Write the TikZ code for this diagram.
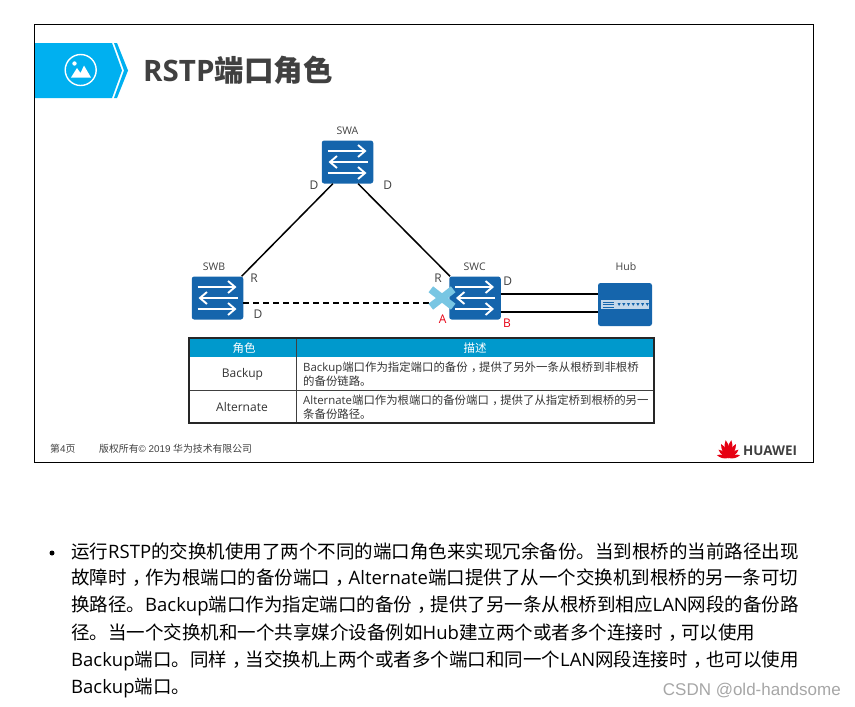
\documentclass[tikz,border=0pt]{standalone}
\usepackage{fontspec}
\setmainfont{Open Sans}
\newfontfamily\cjk{Noto Sans CJK SC}
\newfontfamily\arialf{Liberation Sans}
\usetikzlibrary{arrows.meta, calc}
\definecolor{hwblue}{HTML}{1565AC}
\definecolor{headblue}{HTML}{0099CC}
\definecolor{bannerblue}{HTML}{00B0F0}
\definecolor{crossblue}{HTML}{78C6E3}
\definecolor{textgray}{HTML}{404040}
\definecolor{hwred}{HTML}{E60012}
% comma sits in the middle of its square in the reference
\newcommand\zhc{\kern.3em ，\kern-.3em}
\tikzset{
  >=Stealth,
  device/.style   = {fill=hwblue, rounded corners=2.5pt, inner sep=0pt,
                     minimum width=51.5pt, minimum height=43pt},
  swlabel/.style  = {font=\fontsize{10.5}{12}\selectfont, textgray, inner sep=0pt},
  port/.style     = {font=\fontsize{12}{13}\selectfont, textgray, inner sep=0pt},
  redport/.style  = {font=\fontsize{12}{13}\selectfont, hwred, inner sep=0pt},
  link/.style     = {line width=1.5pt, black},
  flow/.style     = {white, line width=1.9pt},
  cell/.style     = {font=\fontsize{11.4}{13.4}\selectfont, black!80, inner sep=0pt, align=left},
  rolecell/.style = {font=\fontsize{12}{13.4}\selectfont, black!80, inner sep=0pt},
  headcell/.style = {font=\fontsize{11.5}{13}\selectfont\cjk, white, inner sep=0pt},
  bodyline/.style = {font=\fontsize{18.5}{20}\selectfont, black, inner sep=0pt, anchor=west},
}

\begin{document}
\begin{tikzpicture}[x=1pt, y=-1pt]
  \useasboundingbox (0,0) rectangle (855,707);

  % ---------- slide frame and banner --------------------------------
  \draw[black, line width=1pt] (34.5,24.5) rectangle (813,462);
  \fill[bannerblue] (35,43) -- (112,43) -- (122,70.5) -- (112,98) -- (35,98) -- cycle;
  \fill[bannerblue] (114,43) -- (117,43) -- (128,70.5) -- (117,98) -- (114,98) -- (124,70.5) -- cycle;
  \draw[white, line width=1.4pt] (80.7,70) circle (15.5);
  \fill[white] (71,77.5) -- (77,68) -- (80.5,73) -- (84,65.5) -- (91,77.5) -- cycle;
  \fill[white] (74.5,63.5) circle (2.2);
  \node[inner sep=0pt, anchor=west, font=\fontsize{29.5}{31}\selectfont\bfseries, textgray] (title) at (143,70)
    {RSTP{\cjk 端口角色}};

  % ---------- devices ------------------------------------------------
  \node[device] (swa) at (347.5,162) {};
  \node[device] (swb) at (217.5,298) {};
  \node[device] (swc) at (475,298) {};
  \node[device, minimum width=54pt] (hub) at (625,304.5) {};
  \foreach \sw in {swa,swb,swc} {
    \draw[flow, -{Straight Barb[length=7pt,width=12pt]}] ($(\sw)+(-20,-11)$) -- ($(\sw)+(19,-11)$);
    \draw[flow, -{Straight Barb[length=7pt,width=12pt]}] ($(\sw)+(20,0)$) -- ($(\sw)+(-19,0)$);
    \draw[flow, -{Straight Barb[length=7pt,width=12pt]}] ($(\sw)+(-20,11)$) -- ($(\sw)+(19,11)$);
  }
  % hub port strip
  \fill[white!75!hwblue] ($(hub)+(-24,-4.5)$) rectangle ($(hub)+(24,4.5)$);
  \foreach \k in {-2.5,0,2.5} {
    \draw[hwblue, line width=.5pt] ($(hub)+(-22.5,\k)$) -- ($(hub)+(-11,\k)$);
  }
  \foreach \k in {0,...,6} {
    \fill[hwblue] ($(hub)+(-7.5+\k*4.7,-1.5)$) -- ++(3.2,0) -- ++(-1.6,3) -- cycle;
  }

  % ---------- links --------------------------------------------------
  \node[minimum width=22pt, minimum height=17pt, inner sep=0pt] (portA) at (442,298) {};
  \draw[link] (swa.-124) -- (swb.42);
  \draw[link] (swa.-64) -- (swc.139);
  \draw[link, dash pattern=on 6pt off 4pt] (swb.-11) -- (swb.-11 -| portA.west);
  \draw[link] (swc.9.6) -- (swc.9.6 -| hub.west);
  \draw[link] (swc.-28) -- (swc.-28 -| hub.west);
  \draw[crossblue, line width=7.5pt] (portA.north west) -- (portA.south east);
  \draw[crossblue, line width=7.5pt] (portA.south west) -- (portA.north east);

  % ---------- labels -------------------------------------------------
  \node[swlabel] (lswa) at (347.5,131) {SWA};
  \node[swlabel] (lswb) at (214,266.7) {SWB};
  \node[swlabel] (lswc) at (474.7,266.7) {SWC};
  \node[swlabel] (lhub) at (626,266.7) {Hub};
  \node[port] (d1) at (314,185) {D};
  \node[port] (d2) at (387.7,185) {D};
  \node[port] (r1) at (254,278) {R};
  \node[port] (d3) at (258,314) {D};
  \node[port] (r2) at (438,278) {R};
  \node[port] (d4) at (507.7,281.7) {D};
  \node[redport] (pa) at (442.7,319) {A};
  \node[redport] (pb) at (507,323) {B};

  % ---------- table --------------------------------------------------
  \fill[headblue] (189,338) rectangle (654.3,357.3);
  \draw[textgray, line width=.9pt] (296.7,338) -- (296.7,423.3);
  \draw[textgray, line width=.9pt] (189,390.7) -- (654.3,390.7);
  \draw[black!85, line width=1.8pt] (189,338) rectangle (654.3,423.3);
  \node[headcell] (hrole) at (244,348) {角色};
  \node[headcell] (hdesc) at (475,348) {描述};
  \node[rolecell] (backup) at (242.5,374) {Backup};
  \node[rolecell] (alter) at (242,407) {Alternate};
  \node[cell, anchor=west] (dbackup) at (303,374)
    {Backup{\cjk 端口作为指定端口的备份\zhc 提供了另外一条从根桥到非根桥}\\{\cjk 的备份链路。}};
  \node[cell, anchor=west] (dalter) at (303,407)
    {Alternate{\cjk 端口作为根端口的备份端口\zhc 提供了从指定桥到根桥的另一}\\{\cjk 条备份路径。}};

  % ---------- footer -------------------------------------------------
  \node[inner sep=0pt, anchor=west, textgray, font=\fontsize{9.85}{11}\selectfont\arialf] (page) at (50,449)
    {{\cjk 第}4{\cjk 页}};
  \node[inner sep=0pt, anchor=west, textgray, font=\fontsize{9.85}{11}\selectfont\arialf] (copy) at (99,449)
    {{\cjk 版权所有}© 2019 {\cjk 华为技术有限公司}};
  % logo petals
  \foreach \a/\s in {-76/.66, -50/.72, -28/.88, -9/1, 9/1, 28/.88, 50/.72, 76/.66} {
    \fill[hwred, shift={(728.5,458)}, rotate=\a, scale=\s] (0,0) .. controls (-3.4,-6) and (-3,-13) .. (0,-18)
      .. controls (3,-13) and (3.4,-6) .. (0,0) -- cycle;
  }
  \node[inner sep=0pt, anchor=west, textgray, font=\fontsize{13.4}{15}\selectfont\bfseries] (brand) at (743,450.5) {HUAWEI};

  % ---------- body text ----------------------------------------------
  \fill[black] (52,553) circle (2.5);
  \node[bodyline] (l1) at (71,551.5) {{\cjk 运行}RSTP{\cjk 的交换机使用了两个不同的端口角色来实现冗余备份。当到根桥的当前路径出现}};
  \node[bodyline] (l2) at (71,578) {{\cjk 故障时\zhc 作为根端口的备份端口\zhc}Alternate{\cjk 端口提供了从一个交换机到根桥的另一条可切}};
  \node[bodyline] (l3) at (71,606) {{\cjk 换路径。}Backup{\cjk 端口作为指定端口的备份\zhc 提供了另一条从根桥到相应}LAN{\cjk 网段的备份路}};
  \node[bodyline] (l4) at (71,633) {{\cjk 径。当一个交换机和一个共享媒介设备例如}Hub{\cjk 建立两个或者多个连接时\zhc 可以使用}};
  \node[bodyline] (l5) at (71,660.5) {Backup{\cjk 端口。同样\zhc 当交换机上两个或者多个端口和同一个}LAN{\cjk 网段连接时\zhc 也可以使用}};
  \node[bodyline] (l6) at (71,688) {Backup{\cjk 端口。}};
  \node[inner sep=0pt, anchor=east, black!35, font=\fontsize{17}{19}\selectfont\arialf] (mark) at (841,691) {CSDN @old-handsome};
\end{tikzpicture}
\end{document}
